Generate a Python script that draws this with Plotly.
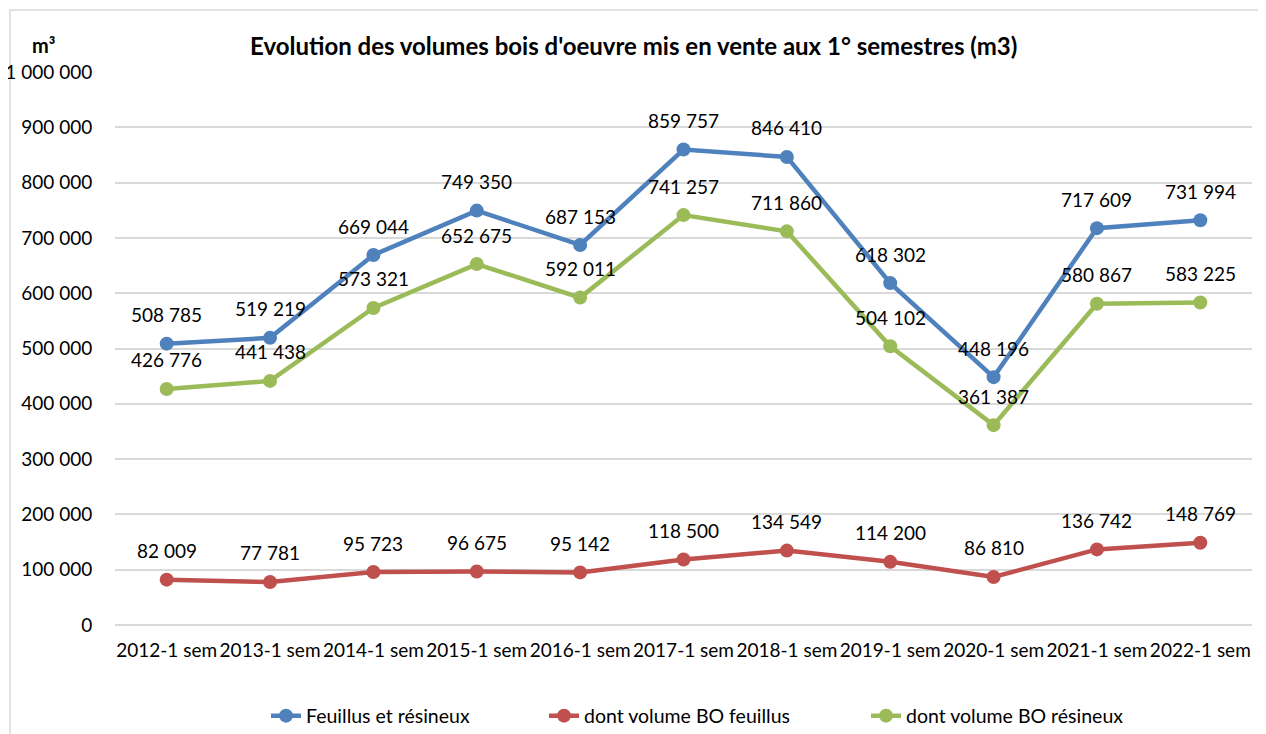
import plotly.graph_objects as go

categories = ["2012-1 sem", "2013-1 sem", "2014-1 sem", "2015-1 sem", "2016-1 sem", "2017-1 sem",
              "2018-1 sem", "2019-1 sem", "2020-1 sem", "2021-1 sem", "2022-1 sem"]
total = [508785, 519219, 669044, 749350, 687153, 859757, 846410, 618302, 448196, 717609, 731994]
feuillus = [82009, 77781, 95723, 96675, 95142, 118500, 134549, 114200, 86810, 136742, 148769]
resineux = [426776, 441438, 573321, 652675, 592011, 741257, 711860, 504102, 361387, 580867, 583225]
tick_vals = [0, 100000, 200000, 300000, 400000, 500000, 600000, 700000, 800000, 900000, 1000000]

# page offset of the figure (browser default body margin)
OFF = 8
W, H = 1266 - OFF, 734 - OFF

def fx(px):  # page x -> figure x
    return px - OFF

def fy(py):  # page y -> figure y
    return py - OFF

PL, PR, PT, PB = fx(115), fx(1252), fy(72), fy(625)
PW, PH = PR - PL, PB - PT

def paper_x(px):
    return (fx(px) - PL) / PW

def paper_y(py):
    return (PB - fy(py)) / PH

series = [
    ("Feuillus et résineux", total, "#4F81BD", "legend2", 308),
    ("dont volume BO feuillus", feuillus, "#C0504D", "legend3", 586),
    ("dont volume BO résineux", resineux, "#9BBB59", "legend4", 908),
]

FONT = "Lato"
FS = 19

def fmt(v):
    return f"{v:,}".replace(",", " ")

fig = go.Figure()
annotations = []
legends = {}
for name, vals, color, leg, text_x in series:
    fig.add_trace(go.Scatter(
        x=categories, y=vals, name=name, mode="lines+markers",
        line=dict(color=color, width=4.5),
        marker=dict(color=color, size=14),
        legend=leg, showlegend=True,
    ))
    legends[leg] = dict(orientation="h", yanchor="middle", y=paper_y(716), xanchor="left",
                        x=paper_x(text_x - 42), font=dict(family=FONT, size=19.5, color="#000000"),
                        bgcolor="rgba(0,0,0,0)")
    for c, v in zip(categories, vals):
        annotations.append(dict(x=c, y=v, xref="x", yref="y", text=fmt(v), showarrow=False,
                                yshift=29, font=dict(family=FONT, size=FS, color="#000000")))

annotations.append(dict(x=paper_x(633), y=paper_y(45), xref="paper", yref="paper",
                        text="<b>Evolution des volumes bois d'oeuvre mis en vente aux 1° semestres (m3)</b>",
                        showarrow=False, font=dict(family=FONT, size=24, color="#000000"),
                        xanchor="center", yanchor="middle"))
annotations.append(dict(x=paper_x(43), y=paper_y(45), xref="paper", yref="paper",
                        text="<b>m³</b>", showarrow=False,
                        font=dict(family=FONT, size=20, color="#000000"),
                        xanchor="center", yanchor="middle"))

fig.update_layout(
    width=W, height=H,
    margin=dict(l=PL, r=W - PR, t=PT, b=H - PB, autoexpand=False),
    paper_bgcolor="white", plot_bgcolor="white",
    separators=", ",
    font=dict(family=FONT, size=FS, color="#000000"),
    annotations=annotations,
    showlegend=True,
    xaxis=dict(range=[-0.5, len(categories) - 0.5], showgrid=False, showline=False, zeroline=False,
               ticks="outside", ticklen=8, tickangle=0,
               tickcolor="rgba(0,0,0,0)", tickfont=dict(family=FONT, size=FS, color="#000000"),
               automargin=False, fixedrange=True),
    yaxis=dict(range=[0, 1000000], tickvals=tick_vals, tickformat=",d", showgrid=True,
               gridcolor="#D9D9D9", gridwidth=1.5, zeroline=True, zerolinecolor="#D9D9D9",
               zerolinewidth=1.5, showline=False, ticks="outside", ticklen=18, automargin=False,
               tickcolor="rgba(0,0,0,0)", tickfont=dict(family=FONT, size=FS, color="#000000")),
    shapes=[dict(type="rect", xref="paper", yref="paper",
                 x0=paper_x(10), x1=paper_x(1261),
                 y0=paper_y(745), y1=paper_y(10),
                 line=dict(color="#D9D9D9", width=1.5), fillcolor="rgba(0,0,0,0)", layer="below")],
    **legends,
)

fig.write_html("out.html")
